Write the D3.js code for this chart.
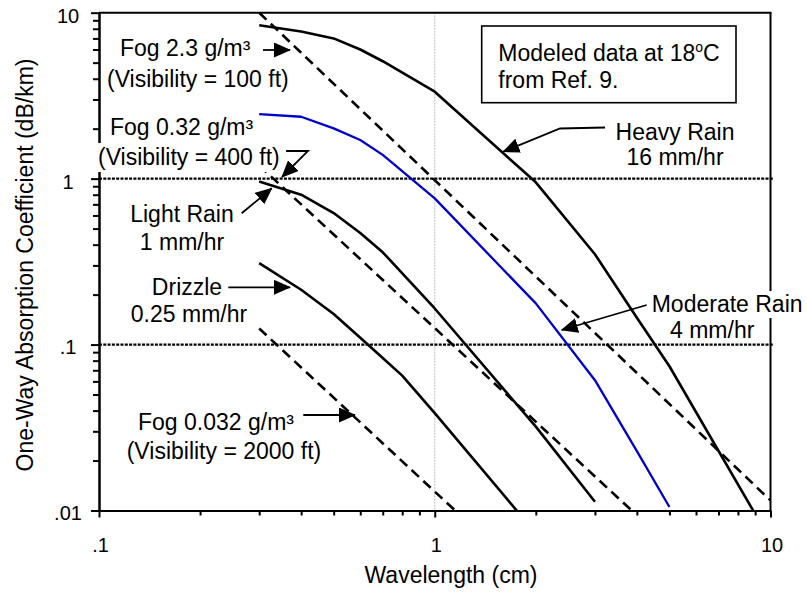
<!DOCTYPE html>
<html><head><meta charset="utf-8">
<script src="https://cdn.jsdelivr.net/npm/d3@7/dist/d3.min.js"></script>
<style>
body{margin:0;background:#fff}
svg{display:block}
text{font-family:"Liberation Sans",Arial,Helvetica,sans-serif;fill:#000}
</style>
</head><body>
<svg id="chart" width="807" height="595"></svg>
<script>
// ---------- data (wavelength in cm, attenuation in dB/km) ----------
const heavyX = [0.3, 0.4, 0.5, 0.6, 0.7, 1, 2, 3, 4, 5, 10];
const heavyY = [8.4, 7.7, 7.0, 6.0, 5.1, 3.34, 0.95, 0.35, 0.145, 0.074, 0.0066];

const moderateX = [0.3, 0.4, 0.5, 0.6, 0.7, 1, 2, 3, 4, 5];
const moderateY = [2.45, 2.36, 2.01, 1.71, 1.39, 0.76, 0.177, 0.061, 0.0228, 0.0105];

const lightX = [0.3, 0.4, 0.5, 0.6, 0.7, 1, 2, 3];
const lightY = [0.96, 0.80, 0.62, 0.47, 0.36, 0.165, 0.032, 0.0113];

const drizzleX = [0.3, 0.4, 0.5, 0.6, 0.7, 0.8, 1, 2];
const drizzleY = [0.31, 0.214, 0.153, 0.11, 0.083, 0.065, 0.0386, 0.0073];

const fog23X = [0.3, 10];
const fog23Y = [10.0, 0.0115];
const fog032X = [0.3, 3.86];
const fog032Y = [1.2, 0.01];
const fog0032X = [0.3, 1.15];
const fog0032Y = [0.125, 0.01];

const xMajor = [0.1, 1, 10];
const xLabels = [".1", "1", "10"];
const yMajor = [0.01, 0.1, 1, 10];
const yLabels = [".01", ".1", "1", "10"];
const refLevels = [1, 0.1];
const xGrid = [1];

const xTitle = "Wavelength (cm)";
const yTitle = "One-Way Absorption Coefficient (dB/km)";

// ---------- layout ----------
const L = 99, R = 770.5, T = 12.7, B = 510.5;
const svg = d3.select("#chart");
const x = d3.scaleLog().domain([0.1, 10]).range([L, R]);
const y = d3.scaleLog().domain([0.01, 10]).range([B, T]);

const minorOf = (lo, hi) => {
  const out = [];
  for (let d = lo; d < hi; d *= 10) for (let k = 2; k <= 9; k++) out.push(d * k);
  return out;
};

svg.append("defs").append("clipPath").attr("id", "plot")
  .append("rect").attr("x", L).attr("y", T).attr("width", R - L).attr("height", B - T);
svg.select("defs").append("marker")
  .attr("id", "ah").attr("markerUnits", "userSpaceOnUse")
  .attr("viewBox", "0 0 17 15").attr("refX", 16).attr("refY", 7.5)
  .attr("markerWidth", 17).attr("markerHeight", 15).attr("orient", "auto")
  .append("path").attr("d", "M0,0 L17,7.5 L0,15 Z").attr("fill", "#000");

// vertical light grid at 1 cm
svg.selectAll(".vgrid").data(xGrid).enter().append("line")
  .attr("x1", d => x(d)).attr("x2", d => x(d)).attr("y1", T).attr("y2", B)
  .attr("stroke", "#bdbdbd").attr("stroke-width", 1).attr("stroke-dasharray", "2,1");

// dotted reference lines at 1 and .1
svg.selectAll(".ref").data(refLevels).enter().append("line")
  .attr("x1", L).attr("x2", R + 3).attr("y1", d => y(d)).attr("y2", d => y(d))
  .attr("stroke", "#000").attr("stroke-width", 2.2).attr("stroke-dasharray", "3,1.3");

// ---------- curves ----------
const line = d3.line().x(d => x(d[0])).y(d => y(d[1]));
const zip = (a, b) => a.map((v, i) => [v, b[i]]);
const g = svg.append("g").attr("clip-path", "url(#plot)");
const series = [
  {xs: fog23X, ys: fog23Y, c: "#000", w: 2.6, dash: "10,6"},
  {xs: fog032X, ys: fog032Y, c: "#000", w: 2.6, dash: "10,6"},
  {xs: fog0032X, ys: fog0032Y, c: "#000", w: 2.6, dash: "10,6"},
  {xs: heavyX, ys: heavyY, c: "#000", w: 2.6, dash: null},
  {xs: moderateX, ys: moderateY, c: "#0000cc", w: 2.3, dash: null},
  {xs: lightX, ys: lightY, c: "#000", w: 2.6, dash: null},
  {xs: drizzleX, ys: drizzleY, c: "#000", w: 2.6, dash: null}
];
series.forEach(s => {
  g.append("path").datum(zip(s.xs, s.ys)).attr("d", line)
    .attr("fill", "none").attr("stroke", s.c).attr("stroke-width", s.w)
    .attr("stroke-dasharray", s.dash).attr("stroke-linejoin", "round");
});

// ---------- frame & axes ----------
svg.append("line").attr("x1", L).attr("x2", R + 1).attr("y1", T).attr("y2", T)
  .attr("stroke", "#000").attr("stroke-width", 2);
svg.append("line").attr("x1", R).attr("x2", R).attr("y1", T).attr("y2", B)
  .attr("stroke", "#000").attr("stroke-width", 2);

const yAxisMinor = d3.axisLeft(y).tickValues(minorOf(0.01, 10)).tickSize(6).tickSizeOuter(0).tickFormat("");
const yAxis = d3.axisLeft(y).tickValues(yMajor).tickSize(8).tickSizeOuter(0)
  .tickFormat(d => yLabels[yMajor.indexOf(d)]);
const xAxisMinor = d3.axisBottom(x).tickValues(minorOf(0.1, 10)).tickSize(5).tickSizeOuter(0).tickFormat("");
const xAxis = d3.axisBottom(x).tickValues(xMajor).tickSize(7).tickSizeOuter(0)
  .tickFormat(d => xLabels[xMajor.indexOf(d)]);

function style(sel) {
  sel.selectAll("path,line").attr("stroke", "#000").attr("stroke-width", 2);
  sel.selectAll("text").attr("font-size", 20).attr("fill", "#000")
    .style("font-family", "'Liberation Sans',Arial,sans-serif");
}
const gyMinor = svg.append("g").attr("transform", `translate(${L},0)`).call(yAxisMinor);
const gy = svg.append("g").attr("transform", `translate(${L},0)`).call(yAxis);
const gxMinor = svg.append("g").attr("transform", `translate(0,${B})`).call(xAxisMinor);
const gx = svg.append("g").attr("transform", `translate(0,${B})`).call(xAxis);
[gyMinor, gy, gxMinor, gx].forEach(style);
gy.selectAll("text").attr("text-anchor", "middle").attr("x", -31).attr("dy", "0.32em")
  .attr("transform", "translate(0,3)");
gx.selectAll("text").attr("y", 41).attr("dy", null).attr("transform", "translate(1,0)");

// axis titles
svg.append("text").attr("x", 451).attr("y", 583).attr("text-anchor", "middle")
  .attr("font-size", 23).text(xTitle);
svg.append("text").attr("transform", "translate(33,265) rotate(-90)").attr("text-anchor", "middle")
  .attr("font-size", 23).text(yTitle);

// ---------- annotations ----------
// white backgrounds behind labels that sit over axis lines
svg.append("rect").attr("x", 96).attr("y", 143).attr("width", 188).attr("height", 29).attr("fill", "#fff");
svg.append("rect").attr("x", 648).attr("y", 291).attr("width", 157).attr("height", 27).attr("fill", "#fff");

// info box
svg.append("rect").attr("x", 481.7).attr("y", 26).attr("width", 254.3).attr("height", 76.7)
  .attr("fill", "#fff").attr("stroke", "#000").attr("stroke-width", 1.6);
const info = svg.append("text").attr("x", 498.3).attr("y", 60.7).attr("font-size", 23);
info.append("tspan").text("Modeled data at 18");
info.append("tspan").attr("font-size", 14).attr("dy", -9).text("o");
info.append("tspan").attr("dy", 9).text("C");
svg.append("text").attr("x", 498.3).attr("y", 88.3).attr("font-size", 23).text("from Ref. 9.");

const labels = [
  {t: "Fog 2.3 g/m³", x: 120, y: 56, a: "start"},
  {t: "(Visibility = 100 ft)", x: 107, y: 87, a: "start"},
  {t: "Fog 0.32 g/m³", x: 110, y: 135, a: "start"},
  {t: "(Visibility = 400 ft)", x: 98, y: 165, a: "start"},
  {t: "Light Rain", x: 182, y: 221.7, a: "middle"},
  {t: "1 mm/hr", x: 182, y: 250, a: "middle"},
  {t: "Drizzle", x: 187, y: 295, a: "middle"},
  {t: "0.25 mm/hr", x: 189, y: 321.7, a: "middle"},
  {t: "Fog 0.032 g/m³", x: 138, y: 430, a: "start"},
  {t: "(Visibility = 2000 ft)", x: 126.7, y: 459, a: "start"},
  {t: "Heavy Rain", x: 675, y: 140, a: "middle"},
  {t: "16 mm/hr", x: 675, y: 165, a: "middle"},
  {t: "Moderate Rain", x: 651.7, y: 311.7, a: "start"},
  {t: "4 mm/hr", x: 670, y: 338.3, a: "start"}
];
svg.selectAll(".lab").data(labels).enter().append("text")
  .attr("x", d => d.x).attr("y", d => d.y).attr("text-anchor", d => d.a)
  .attr("font-size", 23).text(d => d.t);

// leader arrows (pixel callout geometry)
const arrows = [
  [[263, 50], [290, 50]],
  [[286, 151], [308, 151], [282, 177]],
  [[241.7, 213.3], [271.7, 188.3]],
  [[228.3, 287.3], [290, 287.3]],
  [[303.3, 415], [355, 415]],
  [[605, 127.5], [560, 128.5], [503.3, 151.7]],
  [[646.7, 305], [561.7, 330]]
];
arrows.forEach(p => {
  svg.append("path").attr("d", d3.line()(p)).attr("fill", "none")
    .attr("stroke", "#000").attr("stroke-width", 1.8).attr("marker-end", "url(#ah)");
});
</script>
</body></html>
